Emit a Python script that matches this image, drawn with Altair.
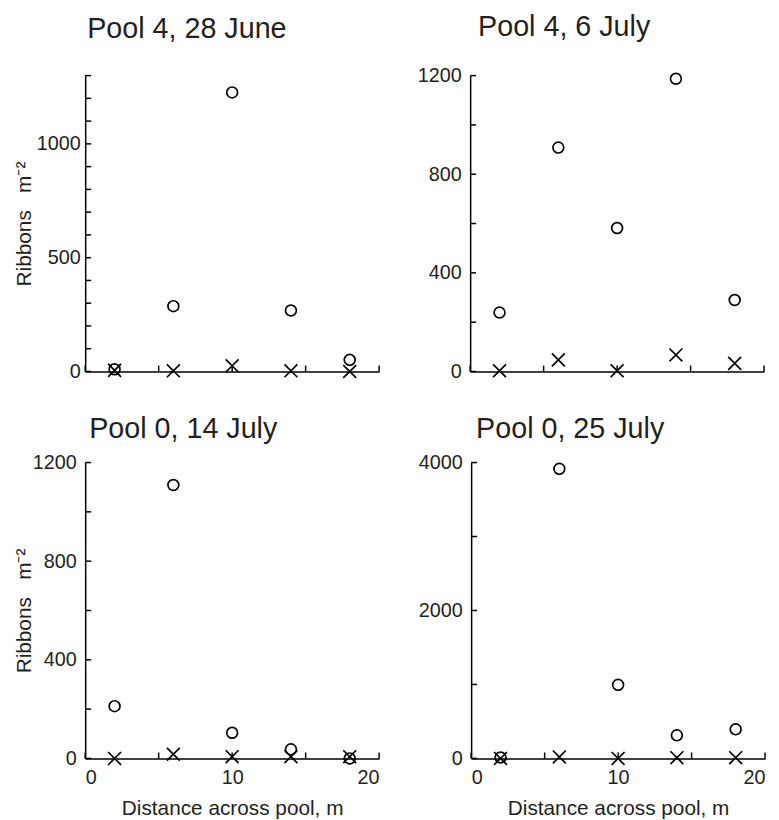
import altair as alt
import pandas as pd

# ---- data ----
DIST = [2, 6, 10, 14, 18]

jun28_circles = [10, 287, 1226, 268, 51]
jun28_crosses = [5, 3, 25, 3, 0]
jul6_circles = [239, 908, 582, 1187, 290]
jul6_crosses = [3, 47, 3, 67, 33]
jul14_circles = [212, 1109, 104, 37, 0]
jul14_crosses = [0, 17, 7, 7, 7]
jul25_circles = [13, 3915, 995, 312, 393]
jul25_crosses = [0, 20, 0, 10, 10]

titles = ["Pool 4, 28 June", "Pool 4, 6 July", "Pool 0, 14 July", "Pool 0, 25 July"]

ticks_1300 = [0, 100, 200, 300, 400, 500, 600, 700, 800, 900, 1000, 1100, 1200, 1300]
labels_1300 = [0, 500, 1000]
ticks_1200 = [0, 200, 400, 600, 800, 1000, 1200]
labels_1200 = [0, 400, 800, 1200]
ticks_4000 = [0, 1000, 2000, 3000, 4000]
labels_4000 = [0, 2000, 4000]
x_ticks = [0, 5, 10, 15, 20]
x_labels = [0, 10, 20]

FONT = "Liberation Sans"
INK = "#231f20"
W, H = 297, 299
CROSS_PATH = "M-1,-1L1,1M-1,1L1,-1"


def panel(title, circles, crosses, ymax, yticks, ylabels, ytitle, xlab, lpad, tpad, toff, tdx):
    pts = pd.DataFrame({
        "dist": DIST * 2,
        "count": circles + crosses,
        "kind": ["circle"] * len(DIST) + ["cross"] * len(DIST),
    })
    ytk = pd.DataFrame({"count": yticks})
    xtk = pd.DataFrame({"dist": x_ticks})

    xscale = alt.Scale(domain=[0, 20], nice=False, zero=False)
    yscale = alt.Scale(domain=[0, ymax], nice=False)
    xaxis = alt.Axis(
        values=x_labels, ticks=False, labels=xlab, domain=True, grid=False, format="d",
        title="Distance across pool, m" if xlab else None,
        labelPadding=9, titlePadding=11,
    )
    yaxis = alt.Axis(
        values=ylabels, ticks=False, domain=True, grid=False, format="d",
        title=ytitle if ytitle else None,
        labelPadding=lpad, titlePadding=tpad,
    )

    base_x = alt.X("dist:Q", scale=xscale, axis=xaxis)
    base_y = alt.Y("count:Q", scale=yscale, axis=yaxis)

    points = alt.Chart(pts).mark_point(strokeWidth=1.7, opacity=1).encode(
        x=base_x,
        y=base_y,
        shape=alt.Shape("kind:N", scale=alt.Scale(domain=["circle", "cross"], range=["circle", CROSS_PATH]), legend=None),
        size=alt.Size("kind:N", scale=alt.Scale(domain=["circle", "cross"], range=[120, 170]), legend=None),
        color=alt.value("black"),
    )
    ytick_rules = alt.Chart(ytk).mark_rule(color="black", strokeWidth=1.5).encode(
        y=base_y, x=alt.value(0), x2=alt.value(6)
    )
    xtick_rules = alt.Chart(xtk).mark_rule(color="black", strokeWidth=1.5).encode(
        x=base_x, y=alt.value(H), y2=alt.value(H - 6)
    )
    return alt.layer(ytick_rules, xtick_rules, points).properties(
        width=W, height=H,
        title=alt.TitleParams(title, anchor="start", frame="group", dx=tdx, fontSize=29,
                              font=FONT, fontWeight="normal", color=INK, offset=toff),
    )


YT = "Ribbons\u00a0\u00a0\u00a0m\u207b\u00b2"
p1 = panel(titles[0], jun28_circles, jun28_crosses, 1300, ticks_1300, labels_1300, YT, False, 5, 2, 31, 2)
p2 = panel(titles[1], jul6_circles, jul6_crosses, 1200, ticks_1200, labels_1200, None, False, 9, 3, 24, 8)
p3 = panel(titles[2], jul14_circles, jul14_crosses, 1200, ticks_1200, labels_1200, YT, True, 9, -2, 9, 4)
p4 = panel(titles[3], jul25_circles, jul25_crosses, 4000, ticks_4000, labels_4000, None, True, 9, 3, 9, 5)

chart = alt.vconcat(
    alt.hconcat(p1, p2, spacing=37),
    alt.hconcat(p3, p4, spacing=38),
    spacing=34,
).properties(
    background="white",
    padding={"left": 5, "top": 1, "right": 5, "bottom": 5},
).configure_view(stroke=None).configure_axis(
    domainColor="black", domainWidth=1.5, grid=False,
    labelFont=FONT, labelFontSize=20, labelColor=INK,
    titleFont=FONT, titleFontSize=21, titleFontWeight="normal", titleColor=INK,
)

chart.save("out.html", embed_options={"renderer": "svg", "actions": False})
